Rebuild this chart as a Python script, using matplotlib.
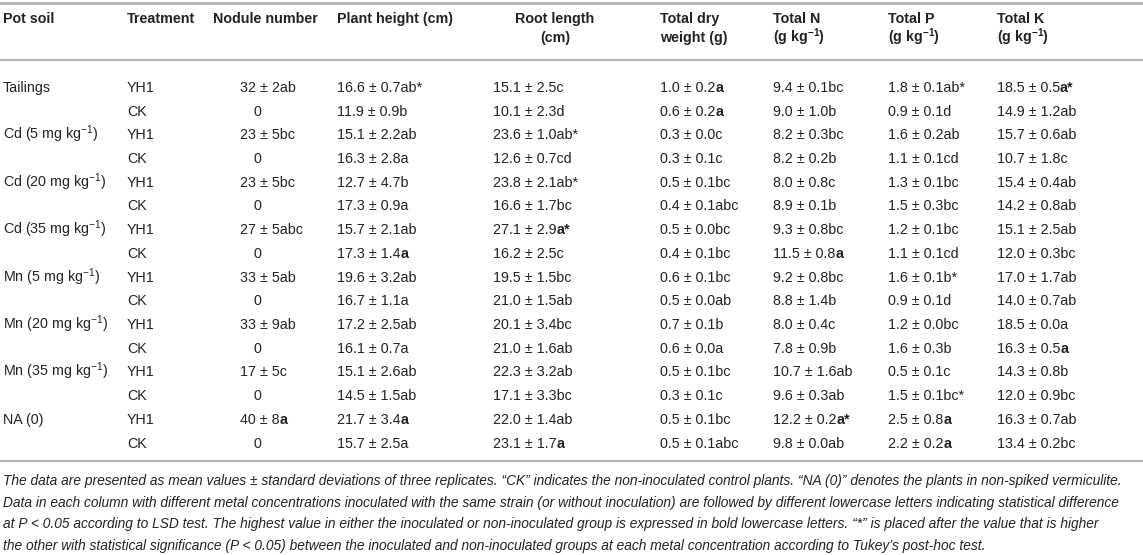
import matplotlib
matplotlib.use('Agg')
import matplotlib.pyplot as plt

plt.rcParams['font.family'] = ['Liberation Sans', 'DejaVu Sans']
plt.rcParams['mathtext.fontset'] = 'custom'
plt.rcParams['mathtext.rm'] = 'Liberation Sans'
plt.rcParams['mathtext.bf'] = 'Liberation Sans:bold'
plt.rcParams['mathtext.it'] = 'Liberation Sans:italic'

# [..] marks bold significance letters
pot_soil = ['Tailings', '', r'Cd (5 mg kg$^{-1}$)', '', r'Cd (20 mg kg$^{-1}$)', '',
            r'Cd (35 mg kg$^{-1}$)', '', r'Mn (5 mg kg$^{-1}$)', '', r'Mn (20 mg kg$^{-1}$)', '',
            r'Mn (35 mg kg$^{-1}$)', '', 'NA (0)', '']
treatment = ['YH1', 'CK'] * 8
nodule = ['32 ± 2ab', '0', '23 ± 5bc', '0', '23 ± 5bc', '0', '27 ± 5abc', '0',
          '33 ± 5ab', '0', '33 ± 9ab', '0', '17 ± 5c', '0', '40 ± 8[a]', '0']
height = ['16.6 ± 0.7ab*', '11.9 ± 0.9b', '15.1 ± 2.2ab', '16.3 ± 2.8a',
          '12.7 ± 4.7b', '17.3 ± 0.9a', '15.7 ± 2.1ab', '17.3 ± 1.4[a]',
          '19.6 ± 3.2ab', '16.7 ± 1.1a', '17.2 ± 2.5ab', '16.1 ± 0.7a',
          '15.1 ± 2.6ab', '14.5 ± 1.5ab', '21.7 ± 3.4[a]', '15.7 ± 2.5a']
root = ['15.1 ± 2.5c', '10.1 ± 2.3d', '23.6 ± 1.0ab*', '12.6 ± 0.7cd',
        '23.8 ± 2.1ab*', '16.6 ± 1.7bc', '27.1 ± 2.9[a*]', '16.2 ± 2.5c',
        '19.5 ± 1.5bc', '21.0 ± 1.5ab', '20.1 ± 3.4bc', '21.0 ± 1.6ab',
        '22.3 ± 3.2ab', '17.1 ± 3.3bc', '22.0 ± 1.4ab', '23.1 ± 1.7[a]']
dry_weight = ['1.0 ± 0.2[a]', '0.6 ± 0.2[a]', '0.3 ± 0.0c', '0.3 ± 0.1c',
              '0.5 ± 0.1bc', '0.4 ± 0.1abc', '0.5 ± 0.0bc', '0.4 ± 0.1bc',
              '0.6 ± 0.1bc', '0.5 ± 0.0ab', '0.7 ± 0.1b', '0.6 ± 0.0a',
              '0.5 ± 0.1bc', '0.3 ± 0.1c', '0.5 ± 0.1bc', '0.5 ± 0.1abc']
total_n = ['9.4 ± 0.1bc', '9.0 ± 1.0b', '8.2 ± 0.3bc', '8.2 ± 0.2b',
           '8.0 ± 0.8c', '8.9 ± 0.1b', '9.3 ± 0.8bc', '11.5 ± 0.8[a]',
           '9.2 ± 0.8bc', '8.8 ± 1.4b', '8.0 ± 0.4c', '7.8 ± 0.9b',
           '10.7 ± 1.6ab', '9.6 ± 0.3ab', '12.2 ± 0.2[a*]', '9.8 ± 0.0ab']
total_p = ['1.8 ± 0.1ab*', '0.9 ± 0.1d', '1.6 ± 0.2ab', '1.1 ± 0.1cd',
           '1.3 ± 0.1bc', '1.5 ± 0.3bc', '1.2 ± 0.1bc', '1.1 ± 0.1cd',
           '1.6 ± 0.1b*', '0.9 ± 0.1d', '1.2 ± 0.0bc', '1.6 ± 0.3b',
           '0.5 ± 0.1c', '1.5 ± 0.1bc*', '2.5 ± 0.8[a]', '2.2 ± 0.2[a]']
total_k = ['18.5 ± 0.5[a*]', '14.9 ± 1.2ab', '15.7 ± 0.6ab', '10.7 ± 1.8c',
           '15.4 ± 0.4ab', '14.2 ± 0.8ab', '15.1 ± 2.5ab', '12.0 ± 0.3bc',
           '17.0 ± 1.7ab', '14.0 ± 0.7ab', '18.5 ± 0.0a', '16.3 ± 0.5[a]',
           '14.3 ± 0.8b', '12.0 ± 0.9bc', '16.3 ± 0.7ab', '13.4 ± 0.2bc']

headers = [['Pot soil'], ['Treatment'], ['Nodule number'], ['Plant height (cm)'],
           ['Root length', '(cm)'], ['Total dry', 'weight (g)'],
           ['Total N', r'(g kg$^{\mathbf{-1}}$)'], ['Total P', r'(g kg$^{\mathbf{-1}}$)'],
           ['Total K', r'(g kg$^{\mathbf{-1}}$)']]

footnote = [
    'The data are presented as mean values ± standard deviations of three replicates. “CK” indicates the non-inoculated control plants. “NA (0)” denotes the plants in non-spiked vermiculite.',
    'Data in each column with different metal concentrations inoculated with the same strain (or without inoculation) are followed by different lowercase letters indicating statistical difference',
    'at P < 0.05 according to LSD test. The highest value in either the inoculated or non-inoculated group is expressed in bold lowercase letters. “*” is placed after the value that is higher',
    'the other with statistical significance (P < 0.05) between the inoculated and non-inoculated groups at each metal concentration according to Tukey’s post-hoc test.',
]

columns = [pot_soil, treatment, nodule, height, root, dry_weight, total_n, total_p, total_k]
col_x = [3, 127, 240, 337, 493, 660, 773, 888, 997]
head_x = [3, 127, 213, 337, 555, 660, 773, 888, 997]
head_ha = ['left', 'left', 'left', 'left', 'center', 'left', 'left', 'left', 'left']

W, H = 1143, 555
fig = plt.figure(figsize=(W / 100, H / 100), dpi=100)
ax = fig.add_axes([0, 0, 1, 1])
ax.set_xlim(0, W)
ax.set_ylim(H, 0)
ax.axis('off')
renderer = fig.canvas.get_renderer()

ink = '#222222'
rule = '#b4b4b4'
fs = 10.3


def draw_cell(x, y, s):
    parts = []
    buf = ''
    for ch in s:
        if ch == '[':
            parts.append((buf, 'normal'))
            buf = ''
        elif ch == ']':
            parts.append((buf, 'bold'))
            buf = ''
        else:
            buf += ch
    parts.append((buf, 'normal'))
    for txt, w in parts:
        if not txt:
            continue
        t = ax.text(x, y, txt, fontsize=fs, fontweight=w, color=ink, va='baseline', ha='left')
        x += t.get_window_extent(renderer).width


ax.axhline(2.5, color=rule, lw=2)
ax.axhline(60, color=rule, lw=1.6)
ax.axhline(461, color=rule, lw=1.6)

for hx, ha, lines in zip(head_x, head_ha, headers):
    for k, line in enumerate(lines):
        ax.text(hx, 23 + 19 * k, line, fontsize=fs, fontweight='bold', color=ink,
                ha=ha, va='baseline')

row_step = 23.7
for cx, col in zip(col_x, columns):
    for i, cell in enumerate(col):
        x = cx
        if cell == '0':
            x = cx + 14
        draw_cell(x, 92 + row_step * i, cell)

# footnote, fitted to the printed width
probe = ax.text(0, 0, footnote[0], fontsize=10, style='italic')
fw = probe.get_window_extent(renderer).width
probe.remove()
ffs = 10 * 1120 / fw
for k, line in enumerate(footnote):
    ax.text(3, 485 + 21.7 * k, line, fontsize=ffs, style='italic', color=ink,
            ha='left', va='baseline')

fig.savefig('out.png', dpi=100)
